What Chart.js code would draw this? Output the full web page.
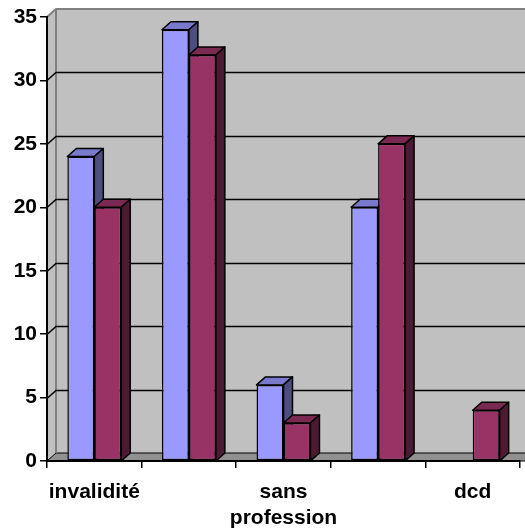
<!DOCTYPE html>
<html>
<head>
<meta charset="utf-8">
<script src="https://cdn.jsdelivr.net/npm/chart.js@4"></script>
<style>
html,body{margin:0;padding:0;background:#fff;}
#wrap{width:525px;height:530px;}
</style>
</head>
<body>
<div id="wrap"><canvas id="c" width="525" height="530"></canvas></div>
<script>
const categories = ["invalidité", "", ["sans", "profession"], "", "dcd"];
const series1 = [24, 34, 6, 20, 0];
const series2 = [20, 32, 3, 25, 4];
const yTicks = [0, 5, 10, 15, 20, 25, 30, 35];

const DX = 9, DY = 8;
const FONT = {family: "'Liberation Sans', Arial, sans-serif", size: 21, weight: 'bold', lineHeight: 1.25};

function shade(hex, f) {
  const n = parseInt(hex.slice(1), 16);
  const r = Math.round(((n >> 16) & 255) * f), g = Math.round(((n >> 8) & 255) * f), b = Math.round((n & 255) * f);
  return `rgb(${r},${g},${b})`;
}

const wallPlugin = {
  id: 'walls',
  beforeDraw(chart) {
    const ctx = chart.ctx, a = chart.chartArea, y = chart.scales.y;
    const L = a.left, R = a.right, T = y.getPixelForValue(35), B = a.bottom;
    ctx.save();
    ctx.fillStyle = '#C0C0C0';
    ctx.fillRect(L + DX, T - DY, R - L + 20, B - T);
    ctx.beginPath();
    ctx.moveTo(L, T); ctx.lineTo(L + DX, T - DY); ctx.lineTo(L + DX, B - DY); ctx.lineTo(L, B); ctx.closePath();
    ctx.fillStyle = '#C0C0C0'; ctx.fill();
    ctx.beginPath();
    ctx.moveTo(L, B); ctx.lineTo(L + DX, B - DY); ctx.lineTo(R + DX + 20, B - DY); ctx.lineTo(R + 20, B); ctx.closePath();
    ctx.fillStyle = '#909090'; ctx.fill();
    ctx.strokeStyle = '#000'; ctx.lineWidth = 1; ctx.stroke();
    ctx.strokeStyle = '#808080'; ctx.lineWidth = 2;
    ctx.beginPath();
    ctx.moveTo(L, T); ctx.lineTo(L + DX, T - DY); ctx.lineTo(R + DX + 20, T - DY);
    ctx.moveTo(L + DX, T - DY); ctx.lineTo(L + DX, B - DY);
    ctx.stroke();
    ctx.strokeStyle = '#000'; ctx.lineWidth = 1.5;
    yTicks.forEach(v => {
      if (v === 0 || v === 35) return;
      const p = Math.round(y.getPixelForValue(v)) + 0.5;
      ctx.beginPath();
      ctx.moveTo(L, p); ctx.lineTo(L + DX, p - DY); ctx.lineTo(R + DX + 20, p - DY);
      ctx.stroke();
    });
    ctx.restore();
  },
  beforeDatasetsDraw(chart) {
    const ctx = chart.ctx, base = chart.scales.y.getPixelForValue(0);
    const metas = [chart.getDatasetMeta(0), chart.getDatasetMeta(1)];
    ctx.save();
    ctx.lineWidth = 1.5; ctx.strokeStyle = '#000'; ctx.lineJoin = 'round';
    for (let i = 0; i < categories.length; i++) {
      metas.forEach((meta, d) => {
        const ds = chart.data.datasets[d];
        if (!ds.data[i]) return;
        const el = meta.data[i];
        const {x, y, width} = el.getProps(['x', 'y', 'width'], true);
        const x0 = x - width / 2, x1 = x + width / 2;
        el.draw(ctx);
        const col = ds.backgroundColor;
        ctx.beginPath();
        ctx.moveTo(x0, y); ctx.lineTo(x0 + DX, y - DY); ctx.lineTo(x1 + DX, y - DY); ctx.lineTo(x1, y); ctx.closePath();
        ctx.fillStyle = shade(col, 0.8); ctx.fill(); ctx.stroke();
        ctx.beginPath();
        ctx.moveTo(x1, y); ctx.lineTo(x1 + DX, y - DY); ctx.lineTo(x1 + DX, base - DY); ctx.lineTo(x1, base); ctx.closePath();
        ctx.fillStyle = shade(col, 0.5); ctx.fill(); ctx.stroke();
      });
    }
    ctx.restore();
    return false;
  }
};

new Chart(document.getElementById('c'), {
  type: 'bar',
  data: {
    labels: categories,
    datasets: [
      {label: 'Série 1', data: series1, backgroundColor: '#9999FF', borderColor: '#000', borderWidth: 1.5, borderSkipped: false},
      {label: 'Série 2', data: series2, backgroundColor: '#993366', borderColor: '#000', borderWidth: 1.5, borderSkipped: false}
    ]
  },
  options: {
    responsive: false,
    animation: false,
    devicePixelRatio: 1,
    categoryPercentage: 0.57,
    barPercentage: 1.0,
    layout: {padding: {top: 17, right: 5, left: 0, bottom: 0}},
    plugins: {legend: {display: false}, tooltip: {enabled: false}},
    scales: {
      x: {
        grid: {offset: true, drawOnChartArea: false, drawTicks: true, tickLength: 7, color: '#000', lineWidth: 1.5},
        border: {color: '#000', width: 2},
        ticks: {color: '#000', font: FONT, padding: 11, maxRotation: 0, autoSkip: false},
        afterFit(s) { s.height = 69; }
      },
      y: {
        min: 0, max: 35,
        afterBuildTicks(s) { s.ticks = yTicks.map(v => ({value: v})); },
        grid: {drawOnChartArea: false, drawTicks: true, tickLength: 7, color: '#000', lineWidth: 1.5},
        border: {color: '#000', width: 2},
        ticks: {color: '#000', font: FONT, padding: 3},
        afterFit(s) { s.width = 47; }
      }
    }
  },
  plugins: [wallPlugin]
});
</script>
</body>
</html>
